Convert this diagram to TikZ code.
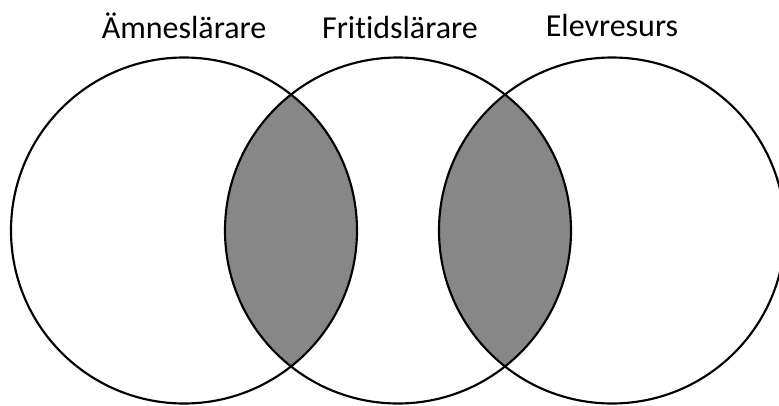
\documentclass[tikz,border=0pt]{standalone}
\usepackage{fontspec}
\setmainfont{Carlito}[Ligatures=NoCommon]
\usetikzlibrary{positioning}
\definecolor{lensgray}{RGB}{135,135,135}
\def\ringrad{173}

\begin{document}
\begin{tikzpicture}[x=0.75pt,y=0.75pt]
    \tikzstyle{ring}=[circle, draw=black, line width=1.6pt, minimum size=2*\ringrad*0.75pt, inner sep=0pt]
    \tikzstyle{role}=[anchor=base, inner sep=0pt, font=\fontsize{24}{28}\selectfont]

    % fixed page size, the right ring runs off the page
    \useasboundingbox (0,0) rectangle (779,405);

    % centres of the three rings
    \foreach \name / \x in {A/184, F/398, E/612}
        \coordinate (c\name) at (\x,174.5);

    % shaded overlaps
    \begin{scope}
        \clip (cA) circle (\ringrad);
        \fill[lensgray] (cF) circle (\ringrad);
    \end{scope}
    \begin{scope}
        \clip (cF) circle (\ringrad);
        \fill[lensgray] (cE) circle (\ringrad);
    \end{scope}

    % the rings and their titles
    \foreach \name / \x / \y / \txt in {A/184/367/Ämneslärare, F/400/367/Fritidslärare, E/612/369/Elevresurs}
    {
        \node[ring] (\name) at (c\name) {};
        \node[role] (\name-lbl) at (\x,\y) {\txt};
    }
\end{tikzpicture}
\end{document}
